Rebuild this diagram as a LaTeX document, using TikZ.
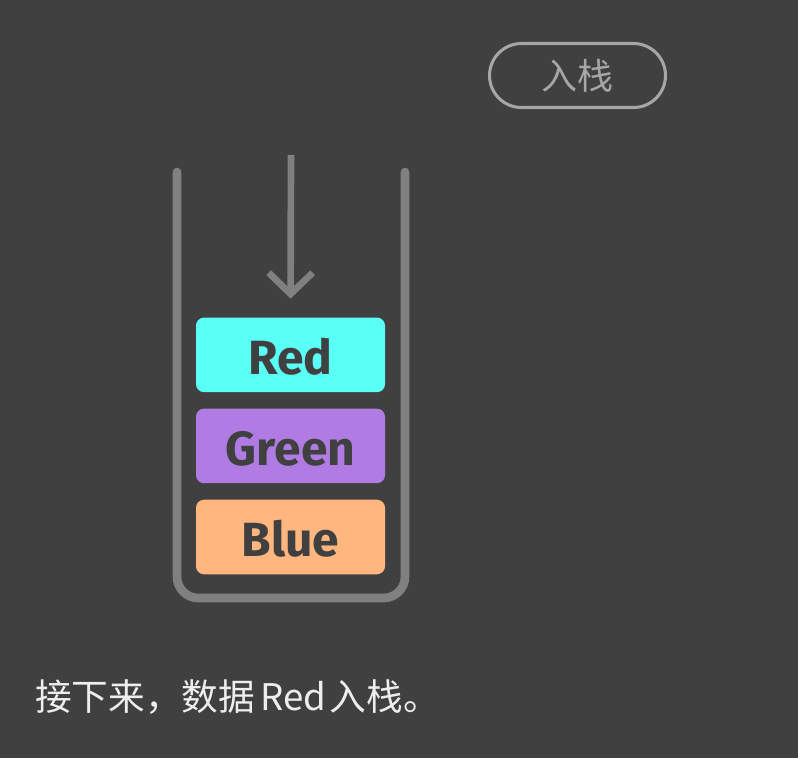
\documentclass[tikz,border=0pt]{standalone}
\usepackage{fontspec}
\usepackage{xcolor}
\usepackage{tikz}
\usetikzlibrary{arrows.meta,positioning}
\newfontfamily\cjk{Noto Sans CJK SC}
\newfontfamily\boxfont{Fira Sans}
\definecolor{Back}{HTML}{404040}
\definecolor{Wall}{HTML}{808080}
\definecolor{Pill}{HTML}{A6A6A6}
\definecolor{Note}{HTML}{EEEEEE}
\definecolor{Cyan}{HTML}{5AFFF6}
\definecolor{Lilac}{HTML}{B07BE3}
\definecolor{Peach}{HTML}{FFB67F}

\begin{document}
\begin{tikzpicture}[x=0.75pt,y=-0.75pt,
blk/.style={rounded corners=6pt,minimum width=141.75pt,minimum height=55.9pt,inner sep=0pt,
  text height=29pt,text depth=0pt,font=\boxfont\bfseries\fontsize{36}{36}\selectfont,text=Back},
wall/.style={draw=Wall,line width=6.5pt,line cap=round,rounded corners=16pt},
push/.style={draw=Wall,line width=5pt,-{Straight Barb[length=16pt,width=33pt]},shorten >=14pt},
pill/.style={rectangle,rounded corners=24pt,draw=Pill,line width=2.3pt,minimum width=132pt,minimum height=48pt,
  text=Pill,font=\cjk\fontsize{27}{27}\selectfont}]
\fill[Back] (0,0) rectangle (798,758);
% stack
\coordinate (tl) at (177,172);
\coordinate (tr) at (405,172);
\draw[wall] (tl) -- (177,598) -- (405,598) -- (tr);
\node[blk,fill=Peach] (blue) at (290.5,537) {Blue};
\node[blk,fill=Lilac,above=12pt of blue] (green) {Green};
\node[blk,fill=Cyan,above=12pt of green] (red) {Red};
% push arrow
\coordinate (drop) at (291,155);
\draw[push] (drop) -- (red.north);
\node[pill] (btn) at (577.5,75.5) {入栈};
\node[anchor=base west,inner sep=0pt,text=Note,font=\cjk\fontsize{27.5}{27.5}\selectfont] (msg) at (35,710)
  {接下来，数据\hspace{4pt}Red\hspace{2.5pt}入栈。};
\end{tikzpicture}
\end{document}
